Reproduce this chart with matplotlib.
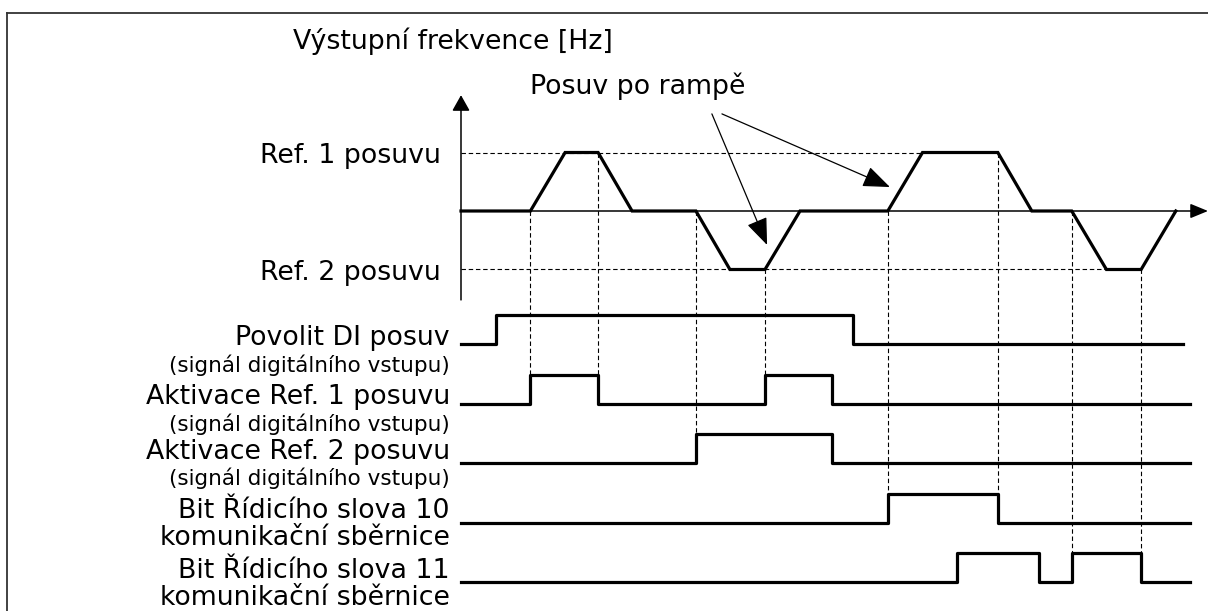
import matplotlib.pyplot as plt
from matplotlib.lines import Line2D

# time in ramp units (one ramp = 1), levels: +1 = Ref. 1, -1 = Ref. 2
freq_t = [0, 2, 3, 3.95, 4.93, 6.77, 7.75, 8.76, 9.77, 12.3, 13.3, 15.47, 16.45, 17.6, 18.6, 19.6, 20.6]
freq_v = [0, 0, 1, 1, 0, 0, -1, -1, 0, 0, 1, 1, 0, 0, -1, -1, 0]

# digital signals as step edges (time, state after edge)
povolit_t = [0, 1.0, 11.3, 20.8]
povolit_s = [0, 1, 0, 0]
akt1_t = [0, 2, 3.95, 8.76, 10.7, 21.0]
akt1_s = [0, 1, 0, 1, 0, 0]
akt2_t = [0, 6.77, 10.7, 21.0]
akt2_s = [0, 1, 0, 0]
bit10_t = [0, 12.3, 15.47, 21.0]
bit10_s = [0, 1, 0, 0]
bit11_t = [0, 14.3, 16.65, 17.6, 19.6, 21.0]
bit11_s = [0, 1, 0, 1, 0, 0]

# guide lines: time, level on the frequency curve, signal row reached
guide_t = [2, 3.95, 6.77, 8.76, 12.3, 15.47, 17.6, 19.6]
guide_top = [0, 1, 0, -1, 0, 1, 0, -1]
guide_row = [1, 1, 2, 1, 3, 3, 4, 4]

ref_levels = [1, -1]
ref_ends = [13.3, 18.6]
ref_labels = ["Ref. 1 posuvu", "Ref. 2 posuvu"]

signal_labels = [
    ("Povolit DI posuv", "(signál digitálního vstupu)"),
    ("Aktivace Ref. 1 posuvu", "(signál digitálního vstupu)"),
    ("Aktivace Ref. 2 posuvu", "(signál digitálního vstupu)"),
    ("Bit Řídicího slova 10", "komunikační sběrnice"),
    ("Bit Řídicího slova 11", "komunikační sběrnice"),
]

# layout
row_base = [-2.27, -3.30, -4.31, -5.33, -6.34]
amp = 0.5
label_main_y = [-2.29, -3.30, -4.24, -5.25, -6.27]
label_sub_y = [-2.75, -3.76, -4.68, -5.71, -6.74]
sub_small = [True, True, True, False, False]

fig = plt.figure(figsize=(12.08, 6.11), dpi=100)
ax = fig.add_axes([0, 0, 1, 1])
ax.set_xlim(-13.285, 21.527)
ax.set_ylim(-6.838, 3.607)
ax.axis("off")

# frame (left and top edges visible)
fig.add_artist(Line2D([7 / 1208, 7 / 1208], [0, 1 - 13 / 611], color="#333333", lw=1.3))
fig.add_artist(Line2D([7 / 1208, 1], [1 - 13 / 611, 1 - 13 / 611], color="#333333", lw=1.3))

thick = 2.3
thin = 1.1
fs = 19.3
fs_small = 15.5

# axes with arrows
ax.annotate("", xy=(21.527, 0), xytext=(0, 0),
            arrowprops=dict(arrowstyle="-|>,head_length=0.9,head_width=0.37", lw=thin,
                            color="black", shrinkA=0, shrinkB=0, mutation_scale=12))
ax.annotate("", xy=(0, 1.98), xytext=(0, -1.52),
            arrowprops=dict(arrowstyle="-|>,head_length=0.8,head_width=0.45", lw=thin,
                            color="black", shrinkA=0, shrinkB=0, mutation_scale=12))

# reference levels
for lev, end, lab in zip(ref_levels, ref_ends, ref_labels):
    ax.plot([0, end], [lev, lev], color="black", lw=0.8, ls=(0, (4, 2.5)))
    ax.text(-0.58, lev - 0.18, lab, ha="right", va="baseline", fontsize=fs)

# frequency curve
ax.plot(freq_t, freq_v, color="black", lw=thick, solid_joinstyle="miter")

# digital signals
signals = [(povolit_t, povolit_s), (akt1_t, akt1_s), (akt2_t, akt2_s),
           (bit10_t, bit10_s), (bit11_t, bit11_s)]
for (t, s), base in zip(signals, row_base):
    ax.step(t, [base + amp * v for v in s], where="post", color="black", lw=thick)

# guides
for t, top, row in zip(guide_t, guide_top, guide_row):
    ax.plot([t, t], [top, row_base[row] + amp], color="black", lw=0.8, ls=(0, (4, 2.5)))

# labels
for (main, sub), ym, ys, small in zip(signal_labels, label_main_y, label_sub_y, sub_small):
    ax.text(-0.317, ym, main, ha="right", va="baseline", fontsize=fs)
    ax.text(-0.317, ys, sub, ha="right", va="baseline", fontsize=fs_small if small else fs)

ax.text(-4.84, 2.77, "Výstupní frekvence [Hz]", ha="left", va="baseline", fontsize=fs)
ax.text(1.99, 2.0, "Posuv po rampě", ha="left", va="baseline", fontsize=fs)

# arrows from the ramp note
arrow_style = dict(arrowstyle="-|>,head_length=1.4,head_width=0.55", lw=0.9, color="black",
                   shrinkA=0, shrinkB=0, mutation_scale=12)
ax.annotate("", xy=(8.82, -0.58), xytext=(7.23, 1.66), arrowprops=arrow_style)
ax.annotate("", xy=(12.36, 0.41), xytext=(7.52, 1.66), arrowprops=arrow_style)

fig.savefig("out.png", dpi=100)
